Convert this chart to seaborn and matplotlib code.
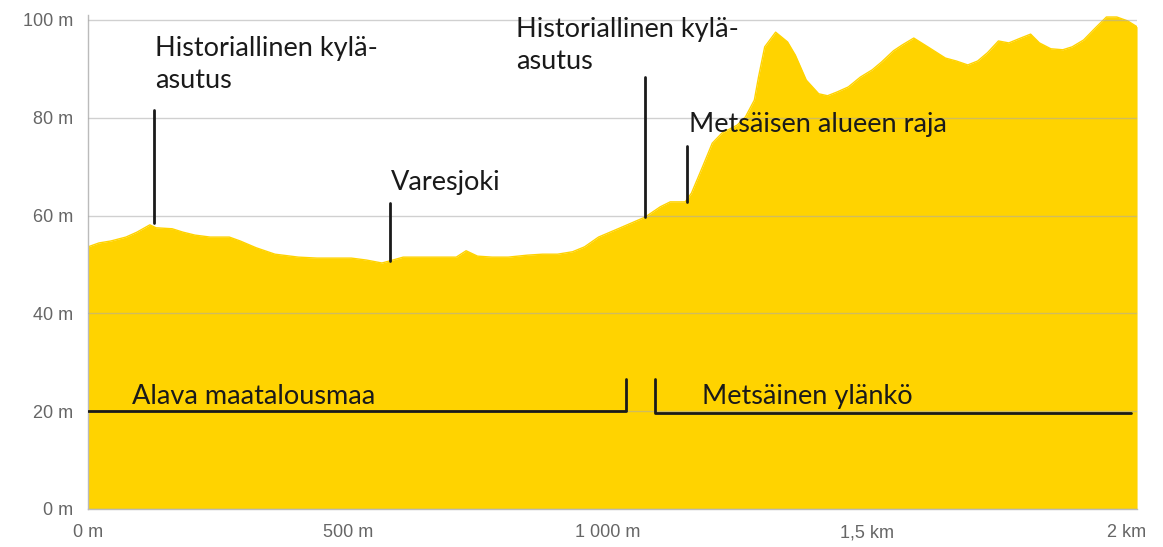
import matplotlib
matplotlib.use('Agg')

import matplotlib.pyplot as plt
import seaborn as sns
import pandas as pd

# elevation profile (distance in m, elevation in m)
dist_m = [0, 21, 44, 73, 94, 119, 131, 162, 183, 206, 235, 272, 293, 324, 360,
          405, 441, 507, 536, 566, 580, 607, 640, 709, 728, 750, 778, 809, 846,
          875, 904, 933, 956, 983, 1025, 1073, 1102, 1121, 1150, 1162, 1183,
          1202, 1221, 1250, 1266, 1283, 1291, 1303, 1324, 1347, 1362, 1383,
          1407, 1424, 1443, 1464, 1487, 1510, 1528, 1551, 1568, 1590, 1620,
          1651, 1672, 1694, 1713, 1732, 1753, 1773, 1796, 1815, 1832, 1854,
          1877, 1895, 1917, 1940, 1961, 1981, 2002, 2020]
elev_m = [53.6, 54.4, 54.8, 55.6, 56.6, 58.1, 57.5, 57.3, 56.6, 56.0, 55.6,
          55.6, 54.8, 53.4, 52.1, 51.5, 51.3, 51.3, 50.9, 50.3, 50.7, 51.5,
          51.5, 51.5, 52.8, 51.7, 51.5, 51.5, 51.9, 52.1, 52.1, 52.6, 53.6,
          55.6, 57.5, 59.7, 61.8, 62.8, 62.8, 64.6, 69.9, 74.8, 76.9, 78.5,
          80.2, 83.6, 88.3, 94.5, 97.5, 95.5, 92.8, 87.7, 84.9, 84.5, 85.3,
          86.3, 88.3, 89.8, 91.4, 93.7, 94.9, 96.3, 94.3, 92.2, 91.6, 90.8,
          91.6, 93.3, 95.7, 95.3, 96.3, 97.1, 95.3, 94.1, 93.9, 94.5, 95.9,
          98.4, 100.6, 100.6, 99.8, 98.6]

x_ticks = [0, 500, 1000, 1500, 2000]
x_labels = ['0 m', '500 m', '1 000 m', '1,5 km', '2 km']
y_ticks = [0, 20, 40, 60, 80, 100]
y_labels = ['0 m', '20 m', '40 m', '60 m', '80 m', '100 m']

# point labels: (text lines, text x, first baseline y, marker x, marker bottom, marker top)
points = [
    (['Historiallinen kylä-', 'asutus'], 129, 92.6, 127, 58.5, 81.6),
    (['Varesjoki'], 583, 65.3, 582, 50.7, 62.6),
    (['Historiallinen kylä-', 'asutus'], 825, 96.6, 1073, 59.7, 88.3),
    (['Metsäisen alueen raja'], 1157, 77.1, 1154, 62.8, 74.2),
]

# zones: (text, text x, line start, line end, level, bracket top)
zones = [
    ('Alava maatalousmaa', 85, 0, 1035, 20.0, 26.6),
    ('Metsäinen ylänkö', 1183, 1092, 2008, 19.6, 26.6),
]

df = pd.DataFrame({'dist': dist_m, 'elev': elev_m})

sns.set_style('white')
plt.rcParams['font.family'] = ['Lato', 'DejaVu Sans']

fig = plt.figure(figsize=(11.63, 5.47), dpi=100)
ax = fig.add_axes([0.0757, 0.0695, 0.902, 0.903])

yellow = '#FFD300'
ink = '#1a1a1a'
ax.fill_between(df['dist'], 0, df['elev'], color=yellow, lw=0, zorder=1)
sns.lineplot(data=df, x='dist', y='elev', ax=ax, color=yellow, lw=1, zorder=2)

ax.set_xlim(0, 2020)
ax.set_ylim(0, 101)
ax.set_xticks(x_ticks)
ax.set_xticklabels(x_labels, family='Liberation Sans', fontsize=13, color='#666666')
ax.set_yticks(y_ticks)
ax.set_yticklabels(y_labels, family='Liberation Sans', fontsize=13, color='#666666')
ax.set_xlabel('')
ax.set_ylabel('')
ax.tick_params(axis='both', length=5, width=1, color='#bbbbbb', pad=6)

ax.grid(axis='y', color='#aaaaaa', lw=1, alpha=0.55, zorder=3)
ax.set_axisbelow(False)
for side in ['top', 'right']:
    ax.spines[side].set_visible(False)
for side in ['left', 'bottom']:
    ax.spines[side].set_color('#bbbbbb')
    ax.spines[side].set_linewidth(1)

line_gap = 6.6  # distance between two text lines, in m of elevation
for lines, tx, ty, mx, y0, y1 in points:
    ax.plot([mx, mx], [y0, y1], color=ink, lw=2, zorder=5)
    for i, txt in enumerate(lines):
        ax.text(tx, ty - i * line_gap, txt, fontsize=19.5, color=ink,
                va='baseline', ha='left', zorder=6)

for label, tx, x0, x1, lvl, top in zones:
    if x0 == 0:
        ax.plot([x0, x1, x1], [lvl, lvl, top], color=ink, lw=2, zorder=5)
    else:
        ax.plot([x0, x0, x1], [top, lvl, lvl], color=ink, lw=2, zorder=5)
    ax.text(tx, 21.5, label, fontsize=19.5, color=ink, va='baseline', ha='left', zorder=6)

plt.savefig('out.png', dpi=100)
